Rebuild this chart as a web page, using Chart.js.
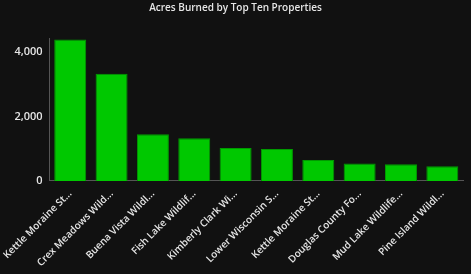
<!DOCTYPE html>
<html>
<head>
<meta charset="utf-8">
<script src="https://cdn.jsdelivr.net/npm/chart.js@4"></script>
<style>
  html, body { margin: 0; padding: 0; background: #111111; }
  #box { width: 471px; height: 274px; }
</style>
</head>
<body>
<div id="box"><canvas id="grafico"></canvas></div>
<script>
// dados
var propriedades = [
  "Kettle Moraine State Forest - Southern Unit",
  "Crex Meadows Wildlife Area",
  "Buena Vista Wildlife Area",
  "Fish Lake Wildlife Area",
  "Kimberly Clark Wildlife Area",
  "Lower Wisconsin State Riverway",
  "Kettle Moraine State Forest - Northern Unit",
  "Douglas County Forest",
  "Mud Lake Wildlife Area",
  "Pine Island Wildlife Area"
];
var acres = [4400, 3330, 1450, 1325, 1025, 990, 650, 540, 520, 455];
var titulo = "Acres Burned by Top Ten Properties";
var passoY = 2000;

function encurtar(txt) {
  return txt.length > 17 ? txt.substring(0, 17) + "..." : txt;
}

Chart.defaults.font.family = "'Open Sans', sans-serif";
Chart.defaults.color = "#e6e6e6";

var grafico = new Chart(document.getElementById("grafico"), {
  type: "bar",
  data: {
    labels: propriedades,
    datasets: [{
      label: "Acres",
      data: acres,
      backgroundColor: "#00c800",
      borderColor: "#009a00",
      borderWidth: 1,
      barPercentage: 0.86,
      categoryPercentage: 0.9
    }]
  },
  options: {
    responsive: true,
    maintainAspectRatio: false,
    animation: false,
    layout: { padding: { left: 8, right: 8, top: 2, bottom: 2 } },
    plugins: {
      legend: { display: false },
      tooltip: { enabled: false },
      title: {
        display: true,
        text: titulo,
        color: "#e6e6e6",
        font: { size: 10, weight: "600" },
        padding: { top: 0, bottom: 24 }
      }
    },
    scales: {
      x: {
        grid: { display: false, tickLength: 4, color: "#555555" },
        border: { display: true, color: "#555555" },
        ticks: {
          maxRotation: 45,
          minRotation: 45,
          autoSkip: false,
          color: "#e6e6e6",
          font: { size: 10, weight: "600" },
          callback: function (v) { return encurtar(this.getLabelForValue(v)); }
        }
      },
      y: {
        min: 0,
        max: Math.max.apply(null, acres) * 1.01,
        grid: { display: false, tickLength: 4 },
        border: { display: true, color: "#555555" },
        afterBuildTicks: function (eixo) {
          // ticks de 2000 em 2000 até o topo do eixo
          var lista = [];
          for (var v = 0; v <= eixo.max; v += passoY) lista.push({ value: v });
          eixo.ticks = lista;
        },
        ticks: {
          color: "#e6e6e6",
          font: { size: 11, weight: "600" }
        }
      }
    }
  }
});
</script>
</body>
</html>
